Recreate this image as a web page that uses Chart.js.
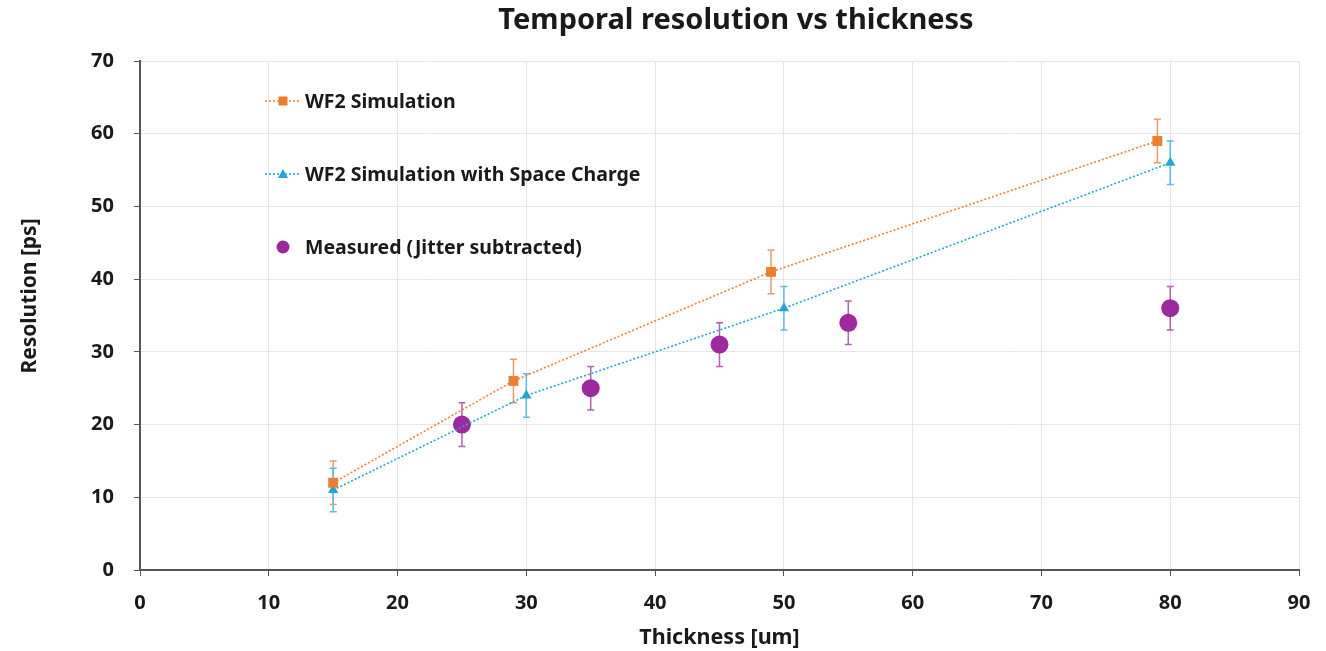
<!DOCTYPE html>
<html>
<head>
<meta charset="utf-8">
<title>Temporal resolution vs thickness</title>
<script src="https://cdn.jsdelivr.net/npm/chart.js@4.4.1/dist/chart.umd.min.js"></script>
<style>
  html, body { margin: 0; padding: 0; background: #fff; }
  #wrap { width: 1326px; height: 651px; position: relative; }
</style>
</head>
<body>
<div id="wrap"><canvas id="chart"></canvas></div>
<script>
// data
const simX = [15, 29, 49, 79];
const simY = [12, 26, 41, 59];
const simErr = [3, 3, 3, 3];

const scX = [15, 30, 50, 80];
const scY = [11, 24, 36, 56];
const scErr = [3, 3, 3, 3];

const measX = [25, 35, 45, 55, 80];
const measY = [20, 25, 31, 34, 36];
const measErr = [3, 3, 3, 3, 3];

const xTicks = [0, 10, 20, 30, 40, 50, 60, 70, 80, 90];
const yTicks = [0, 10, 20, 30, 40, 50, 60, 70];

const labels = ['WF2 Simulation', 'WF2 Simulation with Space Charge', 'Measured (Jitter subtracted)'];
const colors = ['#ED7D31', '#22A6D8', '#9C2A9E'];
const FONT = "'Noto Sans', 'Liberation Sans', sans-serif";

const toPoints = (xs, ys) => xs.map((x, i) => ({ x: x, y: ys[i] }));

// vertical error bars with caps
const errorBars = {
    id: 'errorBars',
    beforeDatasetsDraw(chart) {
        const ctx = chart.ctx;
        const yScale = chart.scales.y;
        chart.data.datasets.forEach((ds, di) => {
            const meta = chart.getDatasetMeta(di);
            ctx.save();
            ctx.strokeStyle = ds.errColor;
            ctx.lineWidth = 1.5;
            meta.data.forEach((pt, i) => {
                const v = ds.data[i].y;
                const e = ds.err[i];
                const top = yScale.getPixelForValue(v + e);
                const bot = yScale.getPixelForValue(v - e);
                ctx.beginPath();
                ctx.moveTo(pt.x, top); ctx.lineTo(pt.x, bot);
                ctx.moveTo(pt.x - 3.5, top); ctx.lineTo(pt.x + 3.5, top);
                ctx.moveTo(pt.x - 3.5, bot); ctx.lineTo(pt.x + 3.5, bot);
                ctx.stroke();
            });
            ctx.restore();
        });
    }
};

// title, y axis title and in-plot legend
const extras = {
    id: 'extras',
    afterDraw(chart) {
        const ctx = chart.ctx;
        const area = chart.chartArea;
        ctx.save();
        ctx.fillStyle = '#1a1a1a';
        ctx.font = 'bold 29px ' + FONT;
        ctx.textAlign = 'center';
        ctx.textBaseline = 'middle';
        ctx.fillText('Temporal resolution vs thickness', 736, 21);

        // y title sits a bit above the plot centre in the original
        ctx.save();
        ctx.font = 'bold 21px ' + FONT;
        ctx.translate(30, 296);
        ctx.rotate(-Math.PI / 2);
        ctx.fillText('Resolution [ps]', 0, 0);
        ctx.restore();

        ctx.font = 'bold 19.5px ' + FONT;
        ctx.textAlign = 'left';
        const lx = area.left + 125;
        const rows = [area.top + 40, area.top + 113, area.top + 186];
        chart.data.datasets.forEach((ds, i) => {
            const y = rows[i];
            ctx.save();
            if (ds.showLine) {
                ctx.strokeStyle = ds.borderColor;
                ctx.lineWidth = 1.5;
                ctx.setLineDash([2, 2]);
                ctx.beginPath();
                ctx.moveTo(lx, y); ctx.lineTo(lx + 36, y);
                ctx.stroke();
                ctx.setLineDash([]);
            }
            ctx.fillStyle = ds.backgroundColor;
            const cx = lx + 18;
            ctx.beginPath();
            if (ds.pointStyle === 'rect') {
                ctx.rect(cx - 4.5, y - 4.5, 9, 9);
            } else if (ds.pointStyle === 'triangle') {
                ctx.moveTo(cx, y - 5); ctx.lineTo(cx + 5, y + 4); ctx.lineTo(cx - 5, y + 4);
                ctx.closePath();
            } else {
                ctx.arc(cx, y, 6.5, 0, Math.PI * 2);
            }
            ctx.fill();
            ctx.restore();
            ctx.fillStyle = '#1a1a1a';
            ctx.fillText(labels[i], lx + 40, y + 1);
        });
        ctx.restore();
    }
};

const tickFont = { family: FONT, size: 20, weight: 'bold' };

new Chart(document.getElementById('chart'), {
    type: 'scatter',
    data: {
        datasets: [
            {
                label: labels[0],
                data: toPoints(simX, simY),
                err: simErr,
                errColor: '#EE9A66',
                showLine: true,
                borderColor: colors[0],
                backgroundColor: colors[0],
                borderWidth: 1.6,
                borderDash: [2, 2],
                pointStyle: 'rect',
                pointRadius: 7,
                pointBorderWidth: 0
            },
            {
                label: labels[1],
                data: toPoints(scX, scY),
                err: scErr,
                errColor: '#5BBCE2',
                showLine: true,
                borderColor: colors[1],
                backgroundColor: colors[1],
                borderWidth: 1.6,
                borderDash: [2, 2],
                pointStyle: 'triangle',
                pointRadius: 6,
                pointBorderWidth: 0
            },
            {
                label: labels[2],
                data: toPoints(measX, measY),
                err: measErr,
                errColor: '#B063B2',
                showLine: false,
                borderColor: colors[2],
                backgroundColor: colors[2],
                pointStyle: 'circle',
                pointRadius: 9,
                pointBorderWidth: 0
            }
        ]
    },
    options: {
        responsive: true,
        maintainAspectRatio: false,
        animation: false,
        layout: { padding: { left: 0, top: 61, right: 27, bottom: 0 } },
        plugins: {
            legend: { display: false },
            title: { display: false },
            tooltip: { enabled: false }
        },
        scales: {
            x: {
                type: 'linear',
                min: 0,
                max: 90,
                afterBuildTicks: (scale) => { scale.ticks = xTicks.map(v => ({ value: v })); },
                afterFit: (scale) => { scale.height = 81; },
                grid: { color: '#E6E6E6', lineWidth: 1, tickLength: 6, tickColor: '#555' },
                border: { color: '#555', width: 2 },
                ticks: { font: tickFont, color: '#1a1a1a', padding: 15, maxRotation: 0 },
                title: {
                    display: true,
                    text: 'Thickness [um]',
                    font: { family: FONT, size: 21.5, weight: 'bold' },
                    color: '#1a1a1a',
                    padding: { top: 5, bottom: 0 }
                }
            },
            y: {
                type: 'linear',
                min: 0,
                max: 70,
                afterBuildTicks: (scale) => { scale.ticks = yTicks.map(v => ({ value: v })); },
                afterFit: (scale) => { scale.width = 140; },
                grid: { color: '#E6E6E6', lineWidth: 1, tickLength: 6, tickColor: '#555' },
                border: { color: '#555', width: 2 },
                ticks: { font: tickFont, color: '#1a1a1a', padding: 20 },
                title: { display: false }
            }
        }
    },
    plugins: [errorBars, extras]
});
</script>
</body>
</html>
